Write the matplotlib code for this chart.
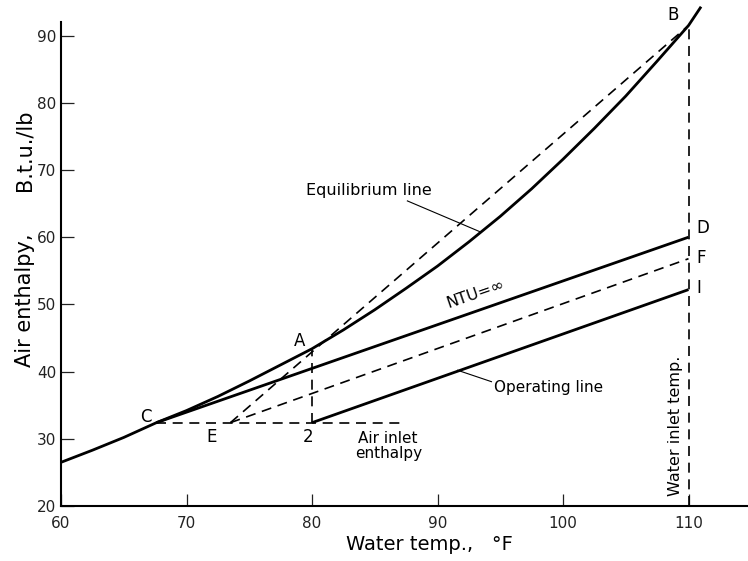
import matplotlib
matplotlib.use("Agg")
import matplotlib.pyplot as plt

# Equilibrium (saturation) curve
eq_x = [60, 62.5, 65, 67.6, 70, 72.5, 75, 77.5, 80, 82.5, 85, 87.5, 90, 92.5, 95, 97.5, 100, 102.5, 105, 107.5, 110, 111]
eq_y = [26.5, 28.3, 30.2, 32.4, 34.2, 36.3, 38.6, 41.0, 43.4, 46.2, 49.2, 52.4, 55.7, 59.3, 63.1, 67.2, 71.6, 76.2, 81.0, 86.2, 91.5, 94.3]

ntu_x = [67.6, 110]
ntu_y = [32.4, 60.0]
op_x = [80, 110]
op_y = [32.4, 52.2]
ef_x = [73.5, 110]
ef_y = [32.4, 56.8]
eb_x = [73.5, 110]
eb_y = [32.4, 91.5]
air_x = [67.6, 87]
air_y = [32.4, 32.4]
a2_x = [80, 80]
a2_y = [32.4, 43.3]
win_x = [110, 110]
win_y = [20, 91.5]

xticks = [60, 70, 80, 90, 100, 110]
yticks = [20, 30, 40, 50, 60, 70, 80, 90]

W, H = 748, 561
fig = plt.figure(figsize=(W / 100, H / 100), dpi=100)
left_px, bottom_px = 61, 506
ax = fig.add_axes([left_px / W, (H - bottom_px) / H, (W - left_px) / W, bottom_px / H])
ax.set_xlim(60, 60 + (W - left_px) / 12.55)
ax.set_ylim(20, 20 + bottom_px / 6.72)

for s in ["top", "right"]:
    ax.spines[s].set_visible(False)
ax.spines["left"].set_bounds(20, 92)
ax.spines["left"].set_linewidth(1.5)
ax.spines["bottom"].set_linewidth(1.5)

ax.set_xticks(xticks)
ax.set_yticks(yticks)
ax.set_xticklabels([str(v) for v in xticks])
ax.set_yticklabels([str(v) for v in yticks])
ax.tick_params(direction="in", length=9, width=0.9, labelsize=11, colors="#222222")
ax.tick_params(axis="x", pad=7)

solid = dict(color="black", lw=2.0, solid_capstyle="butt", clip_on=False)
dash = dict(color="black", lw=1.2, dashes=(6, 4), clip_on=False)

ax.plot(eq_x, eq_y, **solid)
ax.plot(ntu_x, ntu_y, **solid)
ax.plot(op_x, op_y, **solid)
ax.plot(ef_x, ef_y, **dash)
ax.plot(eb_x, eb_y, **dash)
ax.plot(air_x, air_y, **dash)
ax.plot(a2_x, a2_y, **dash)
ax.plot(win_x, win_y, **dash)

fs = 12
ax.text(108.8, 93.1, "B", fontsize=fs, ha="center", va="center")
ax.text(110.6, 61.4, "D", fontsize=fs, ha="left", va="center")
ax.text(110.6, 56.9, "F", fontsize=fs, ha="left", va="center")
ax.text(110.6, 52.4, "I", fontsize=fs, ha="left", va="center")
ax.text(79.0, 44.6, "A", fontsize=fs, ha="center", va="center")
ax.text(66.8, 33.2, "C", fontsize=fs, ha="center", va="center")
ax.text(72.0, 30.3, "E", fontsize=fs, ha="center", va="center")
ax.text(79.7, 30.3, "2", fontsize=fs, ha="center", va="center")
ax.text(83.4, 29.0, "Air inlet\nenthalpy", fontsize=11, ha="left", va="center",
        multialignment="center", linespacing=1.0)
ax.text(109.0, 32.0, "Water inlet temp.", fontsize=11.5, ha="center", va="center",
        rotation=90)
ax.text(93.0, 51.5, "NTU=\u221e", fontsize=11.5, ha="center", va="center", rotation=19)
ax.text(79.5, 67.0, "Equilibrium line", fontsize=11.5, ha="left", va="center")
ax.plot([87.6, 93.4], [65.4, 60.8], color="black", lw=0.8)
ax.text(94.5, 37.6, "Operating line", fontsize=11, ha="left", va="center")
ax.plot([94.3, 91.6], [38.5, 40.2], color="black", lw=0.8)

fig.text(429 / W, 1 - 545 / H, "Water temp.,   \u00b0F",
         fontsize=14, ha="center", va="center")
fig.text(25 / W, 1 - 300 / H, "Air enthalpy,", fontsize=15,
         ha="center", va="center", rotation=90)
fig.text(25 / W, 1 - 150 / H, "B.t.u./lb", fontsize=15,
         ha="center", va="center", rotation=90)

fig.savefig("out.png", dpi=100)
